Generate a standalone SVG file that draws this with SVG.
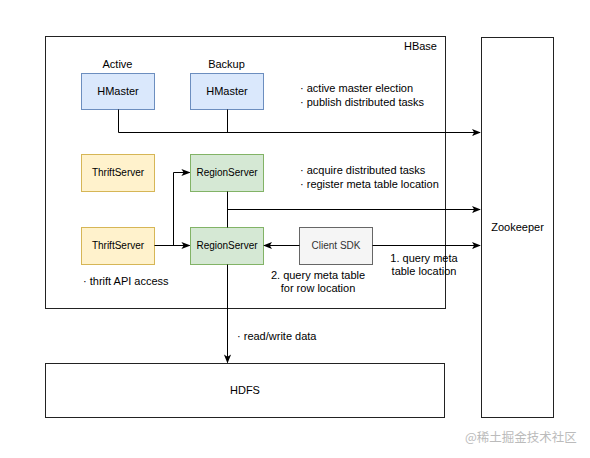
<svg xmlns="http://www.w3.org/2000/svg" width="590" height="458" viewBox="0 0 590 458">
<defs>
<style>
text{font-family:"Liberation Sans",Arial,sans-serif;font-size:11px;fill:#000}
.c{text-anchor:middle}
.s{font-size:10px}
.e{stroke:#000;stroke-width:1;fill:none}
.box{fill:#fff;stroke:#222;stroke-width:1}
.hm{fill:#dae8fc;stroke:#6c8ebf}
.ts{fill:#fff2cc;stroke:#d6b656}
.rs{fill:#d5e8d4;stroke:#82b366}
.sdk{fill:#f5f5f5;stroke:#666}
.wm{font-family:"Noto Sans CJK SC",sans-serif;font-size:12.5px;fill:#bbb}
</style>
<marker id="a" viewBox="0 0 10 10" refX="9" refY="5" markerWidth="9" markerHeight="9" orient="auto" markerUnits="userSpaceOnUse">
<path d="M0,1 L10,5 L0,9 L2.5,5 Z" fill="#000"/>
</marker>
</defs>
<rect width="590" height="458" fill="#fff"/>
<g id="hbase"><rect class="box" x="45.5" y="36.5" width="400" height="272"/><text x="437" y="50" text-anchor="end">HBase</text></g>
<g id="zookeeper"><rect class="box" x="481.5" y="37.5" width="72" height="380"/><text class="c" x="517.5" y="231">Zookeeper</text></g>
<g id="hdfs"><rect class="box" x="45.5" y="363.5" width="399" height="54"/><text class="c" x="245" y="394">HDFS</text></g>
<g id="hmaster-active"><text class="c" x="117.5" y="68">Active</text><rect class="hm" x="81.5" y="73.5" width="73" height="36"/><text class="c" x="118" y="95">HMaster</text></g>
<g id="hmaster-backup"><text class="c" x="226.5" y="68">Backup</text><rect class="hm" x="190.5" y="73.5" width="73" height="36"/><text class="c" x="227" y="95">HMaster</text></g>
<g id="thrift1"><rect class="ts" x="81.5" y="154.5" width="73" height="37"/><text class="c s" x="118" y="176">ThriftServer</text></g>
<g id="thrift2"><rect class="ts" x="81.5" y="227.5" width="73" height="37"/><text class="c s" x="118" y="249">ThriftServer</text></g>
<g id="rs1"><rect class="rs" x="190.5" y="154.5" width="73" height="37"/><text class="c s" x="227" y="176">RegionServer</text></g>
<g id="rs2"><rect class="rs" x="190.5" y="227.5" width="73" height="37"/><text class="c s" x="227" y="249">RegionServer</text></g>
<g id="clientsdk"><rect class="sdk" x="299.5" y="227.5" width="73" height="37"/><text class="c s" x="336" y="249" style="fill:#333">Client SDK</text></g>
<g id="notes">
<text x="300" y="92">· active master election</text>
<text x="300" y="106">· publish distributed tasks</text>
<text x="300" y="174">· acquire distributed tasks</text>
<text x="300" y="188">· register meta table location</text>
<text x="83" y="285">· thrift API access</text>
<text class="c" x="424" y="262">1. query meta</text>
<text class="c" x="424" y="275">table location</text>
<text class="c" x="318" y="279">2. query meta table</text>
<text class="c" x="318" y="292">for row location</text>
<text x="237" y="340">· read/write data</text>
<text class="wm" x="465" y="442">@稀土掘金技术社区</text>
</g>
<g id="connectors">
<path class="e" d="M118.5,109.5 V132.5 H480" marker-end="url(#a)"/>
<path class="e" d="M227.5,109.5 V132.5"/>
<path class="e" d="M154.5,245.5 H189.5" marker-end="url(#a)"/>
<path class="e" d="M173.5,245.5 V172.5 H189.5" marker-end="url(#a)"/>
<path class="e" d="M227.5,191.5 V227.5"/>
<path class="e" d="M227.5,209.5 H480" marker-end="url(#a)"/>
<path class="e" d="M299.5,245.5 H264" marker-end="url(#a)"/>
<path class="e" d="M372.5,245.5 H480" marker-end="url(#a)"/>
<path class="e" d="M227.5,264.5 V362.5" marker-end="url(#a)"/>
</g>
</svg>
